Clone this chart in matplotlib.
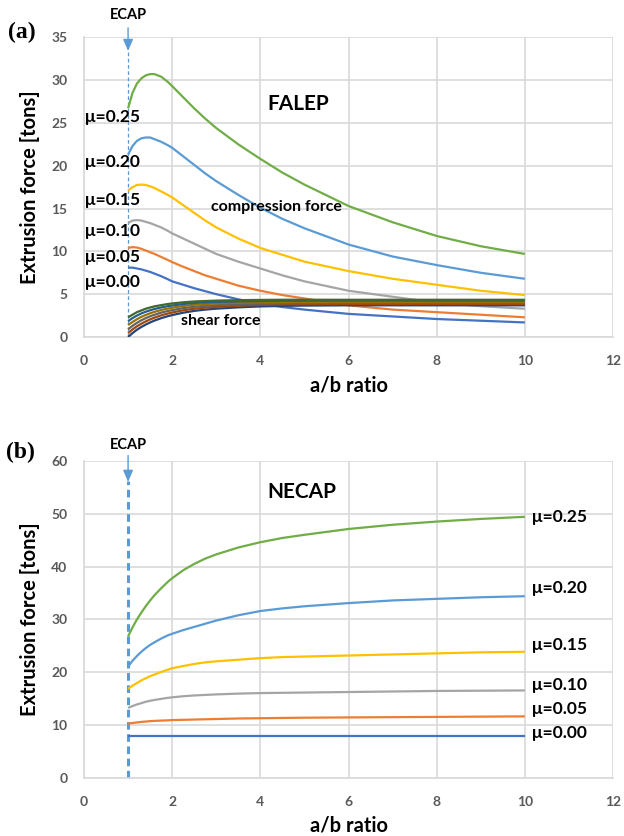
import matplotlib
matplotlib.use("Agg")
import matplotlib.pyplot as plt

# ---------------- data ----------------
mu_labels = ["μ=0.00", "μ=0.05", "μ=0.10", "μ=0.15", "μ=0.20", "μ=0.25"]

# panel (a) FALEP: compression force
xa = [1, 1.1, 1.2, 1.3, 1.4, 1.5, 1.6, 1.75, 1.9, 2.0, 2.25, 2.5, 2.75, 3, 3.5, 4, 4.5, 5, 6, 7, 8, 9, 10]
comp_000 = [8.1, 8.1, 8.0, 7.9, 7.75, 7.6, 7.4, 7.1, 6.75, 6.5, 6.1, 5.7, 5.35, 5.0, 4.4, 3.9, 3.5, 3.2, 2.7, 2.4, 2.1, 1.9, 1.7]
comp_005 = [10.4, 10.5, 10.45, 10.3, 10.1, 9.9, 9.7, 9.35, 9.0, 8.75, 8.2, 7.7, 7.2, 6.8, 6.0, 5.4, 4.9, 4.5, 3.7, 3.2, 2.9, 2.6, 2.3]
comp_010 = [13.3, 13.6, 13.65, 13.6, 13.45, 13.3, 13.1, 12.8, 12.4, 12.1, 11.5, 10.9, 10.3, 9.7, 8.8, 8.0, 7.2, 6.5, 5.4, 4.7, 4.0, 3.6, 3.3]
comp_015 = [17.1, 17.5, 17.75, 17.8, 17.75, 17.6, 17.4, 17.0, 16.6, 16.3, 15.4, 14.5, 13.6, 12.8, 11.5, 10.4, 9.6, 8.8, 7.7, 6.8, 6.1, 5.4, 4.9]
comp_020 = [21.3, 22.3, 22.9, 23.2, 23.3, 23.3, 23.1, 22.8, 22.4, 22.1, 21.1, 20.1, 19.1, 18.2, 16.6, 15.1, 13.8, 12.7, 10.8, 9.4, 8.4, 7.5, 6.8]
comp_025 = [26.7, 28.5, 29.6, 30.2, 30.55, 30.7, 30.7, 30.4, 29.8, 29.3, 28.0, 26.7, 25.5, 24.4, 22.5, 20.8, 19.2, 17.8, 15.3, 13.4, 11.8, 10.6, 9.7]

# panel (a) FALEP: shear force
shear_000 = [0.0, 0.45, 0.85, 1.17, 1.45, 1.7, 1.92, 2.2, 2.43, 2.56, 2.84, 3.05, 3.2, 3.31, 3.46, 3.57, 3.63, 3.67, 3.7, 3.7, 3.7, 3.7, 3.7]
shear_005 = [0.45, 0.88, 1.25, 1.55, 1.82, 2.06, 2.26, 2.53, 2.74, 2.86, 3.12, 3.3, 3.43, 3.52, 3.65, 3.74, 3.8, 3.83, 3.85, 3.85, 3.85, 3.85, 3.85]
shear_010 = [0.9, 1.3, 1.65, 1.95, 2.2, 2.42, 2.6, 2.85, 3.03, 3.14, 3.37, 3.53, 3.64, 3.72, 3.82, 3.9, 3.94, 3.96, 4.0, 4.0, 4.0, 4.0, 4.0]
shear_015 = [1.4, 1.75, 2.07, 2.35, 2.57, 2.77, 2.94, 3.15, 3.32, 3.42, 3.62, 3.76, 3.85, 3.92, 4.0, 4.05, 4.08, 4.1, 4.1, 4.1, 4.1, 4.1, 4.1]
shear_020 = [1.85, 2.2, 2.5, 2.75, 2.95, 3.12, 3.27, 3.45, 3.6, 3.68, 3.85, 3.97, 4.05, 4.1, 4.16, 4.2, 4.22, 4.24, 4.25, 4.25, 4.25, 4.25, 4.25]
shear_025 = [2.3, 2.6, 2.9, 3.1, 3.3, 3.45, 3.58, 3.72, 3.85, 3.92, 4.05, 4.15, 4.2, 4.25, 4.3, 4.33, 4.35, 4.35, 4.35, 4.35, 4.35, 4.35, 4.35]

# panel (b) NECAP
xb = [1, 1.1, 1.2, 1.3, 1.4, 1.5, 1.6, 1.75, 1.9, 2.0, 2.25, 2.5, 2.75, 3, 3.5, 4, 4.5, 5, 6, 7, 8, 9, 10]
nec_000 = [8.0] * 23
nec_005 = [10.3, 10.45, 10.55, 10.65, 10.72, 10.8, 10.85, 10.9, 10.95, 11.0, 11.05, 11.1, 11.15, 11.2, 11.3, 11.35, 11.4, 11.45, 11.5, 11.55, 11.6, 11.65, 11.7]
nec_010 = [13.3, 13.65, 13.95, 14.2, 14.45, 14.65, 14.8, 15.0, 15.2, 15.3, 15.5, 15.65, 15.75, 15.85, 16.0, 16.1, 16.15, 16.2, 16.3, 16.4, 16.5, 16.55, 16.6]
nec_015 = [16.9, 17.5, 18.0, 18.5, 18.9, 19.3, 19.6, 20.1, 20.5, 20.8, 21.2, 21.6, 21.9, 22.1, 22.4, 22.7, 22.9, 23.0, 23.2, 23.4, 23.6, 23.8, 23.9]
nec_020 = [21.1, 22.2, 23.1, 23.9, 24.6, 25.2, 25.7, 26.4, 27.0, 27.3, 28.0, 28.6, 29.2, 29.8, 30.8, 31.6, 32.1, 32.5, 33.1, 33.6, 33.9, 34.2, 34.4]
nec_025 = [26.8, 28.5, 30.0, 31.3, 32.5, 33.6, 34.6, 35.9, 37.1, 37.8, 39.3, 40.5, 41.5, 42.3, 43.6, 44.6, 45.4, 46.0, 47.1, 47.9, 48.5, 49.0, 49.4]

xticks = [0, 2, 4, 6, 8, 10, 12]
yticks_a = [0, 5, 10, 15, 20, 25, 30, 35]
yticks_b = [0, 10, 20, 30, 40, 50, 60]

# ---------------- style ----------------
colors = ["#4472C4", "#ED7D31", "#A5A5A5", "#FFC000", "#5B9BD5", "#70AD47"]
dark_colors = ["#264478", "#9E480E", "#636363", "#997300", "#255E91", "#43682B"]
FONT = ["Lato", "DejaVu Sans"]
plt.rcParams["font.family"] = FONT
plt.rcParams["font.weight"] = "bold"

fig = plt.figure(figsize=(6.24, 8.36), dpi=100)
W, H = 624.0, 836.0
ax_a = fig.add_axes([84 / W, 1 - 337 / H, 529 / W, 299.7 / H])
ax_b = fig.add_axes([84 / W, 1 - 778.3 / H, 529 / W, 317.6 / H])

grid_c = "#D9D9D9"
tick_c = "#595959"


def style_axes(ax, yticks, ymax):
    ax.set_xlim(0, 12)
    ax.set_ylim(0, ymax)
    ax.set_xticks(xticks)
    ax.set_yticks(yticks)
    ax.grid(True, color=grid_c, linewidth=1.2, zorder=0)
    ax.set_axisbelow(True)
    for s in ["top", "right"]:
        ax.spines[s].set_visible(False)
    for s in ["left", "bottom"]:
        ax.spines[s].set_color(grid_c)
        ax.spines[s].set_linewidth(1.2)
    ax.tick_params(axis="both", length=0, labelsize=10, labelcolor=tick_c)
    ax.tick_params(axis="x", pad=13)
    ax.tick_params(axis="y", pad=12)
    for lab in ax.get_xticklabels() + ax.get_yticklabels():
        lab.set_fontweight("bold")
    ax.set_xlabel("a/b ratio", fontsize=14.5, fontweight="bold", va="center")
    ax.set_ylabel("Extrusion force [tons]", fontsize=14.5, fontweight="bold", va="center")


style_axes(ax_a, yticks_a, 35)
style_axes(ax_b, yticks_b, 60)
ax_a.yaxis.set_label_coords(-54 / 529, 0.5)
ax_b.yaxis.set_label_coords(-54 / 529, 0.5)
ax_a.xaxis.set_label_coords(0.5, -49 / 299.7)
ax_b.xaxis.set_label_coords(0.5, -47 / 317.6)

# ---------------- panel (a) ----------------
comp = [comp_000, comp_005, comp_010, comp_015, comp_020, comp_025]
shear = [shear_000, shear_005, shear_010, shear_015, shear_020, shear_025]
for i in range(6):
    ax_a.plot(xa, comp[i], color=colors[i], linewidth=1.6, zorder=3,
              solid_capstyle="butt", solid_joinstyle="round")
for i in range(6):
    ax_a.plot(xa, shear[i], color=dark_colors[i], linewidth=1.6, zorder=3,
              solid_capstyle="butt", solid_joinstyle="round")

ax_a.plot([1, 1], [0, 33.5], color="#5B9BD5", linewidth=0.9,
          linestyle=(0, (3, 2)), zorder=2, clip_on=False)
ax_a.annotate("", xy=(1, 33.4), xytext=(1, 36.1), annotation_clip=False,
              arrowprops=dict(arrowstyle="-|>,head_length=0.7,head_width=0.3",
                              color="#5B9BD5", lw=1.0, shrinkA=0, shrinkB=0))
ax_a.text(1, 37.6, "ECAP", ha="center", va="center", fontsize=10.5,
          fontweight="bold", clip_on=False)

lab_a_y = [6.4, 9.3, 12.4, 16.0, 20.4, 25.7]
for i in range(6):
    ax_a.text(0.03, lab_a_y[i], mu_labels[i], ha="left", va="center",
              fontsize=12.5, fontweight="bold", zorder=5)
ax_a.text(4.15, 27.2, "FALEP", ha="left", va="center", fontsize=15, fontweight="bold")
ax_a.text(2.89, 15.2, "compression force", ha="left", va="center",
          fontsize=11.5, fontweight="bold", zorder=5)
ax_a.text(2.2, 1.9, "shear force", ha="left", va="center",
          fontsize=11.5, fontweight="bold", zorder=5)

# ---------------- panel (b) ----------------
nec = [nec_000, nec_005, nec_010, nec_015, nec_020, nec_025]
for i in range(6):
    ax_b.plot(xb, nec[i], color=colors[i], linewidth=1.6, zorder=3,
              solid_capstyle="butt", solid_joinstyle="round")

ax_b.plot([1, 1], [0, 56.1], color="#5B9BD5", linewidth=2.2,
          linestyle=(0, (2.5, 1.5)), zorder=2, clip_on=False)
ax_b.annotate("", xy=(1, 56.0), xytext=(1, 61.0), annotation_clip=False,
              arrowprops=dict(arrowstyle="-|>,head_length=0.7,head_width=0.3",
                              color="#5B9BD5", lw=1.0, shrinkA=0, shrinkB=0))
ax_b.text(1, 63.0, "ECAP", ha="center", va="center", fontsize=10.5,
          fontweight="bold", clip_on=False)

lab_b_y = [8.5, 13.1, 17.7, 25.1, 35.9, 49.3]
for i in range(6):
    ax_b.text(10.17, lab_b_y[i], mu_labels[i], ha="left", va="center",
              fontsize=12.5, fontweight="bold", zorder=5)
ax_b.text(4.15, 54.0, "NECAP", ha="left", va="center", fontsize=15, fontweight="bold")

# panel letters
fig.text(22 / W, 1 - 32 / H, "(a)", ha="center", va="center", fontsize=17,
         fontweight="bold", family=["Liberation Serif", "DejaVu Serif"])
fig.text(20 / W, 1 - 452 / H, "(b)", ha="center", va="center", fontsize=17,
         fontweight="bold", family=["Liberation Serif", "DejaVu Serif"])

fig.savefig("out.png", dpi=100)
